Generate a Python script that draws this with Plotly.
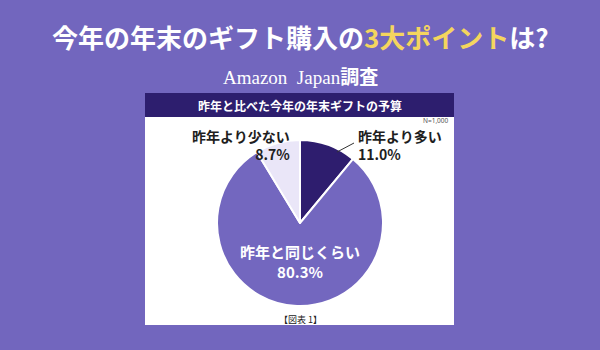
import plotly.graph_objects as go

W, H = 600, 350

# Data
categories = ["昨年より多い", "昨年と同じくらい", "昨年より少ない"]
values = [11.0, 80.3, 8.7]
colors = ["#2E1D6E", "#7367BF", "#EAE6F8"]

title_parts = ["今年の年末のギフト購入の", "3大ポイント", "は?"]
subtitle = "Amazon Japan調査"
chart_title = "昨年と比べた今年の年末ギフトの予算"
n_note = "N=1,000"
fig_note = "【図表 1】"

BG = "#7266BE"
FONT = "Noto Sans CJK JP"


def px(x):
    return x / W


def py(y):
    return 1 - y / H


fig = go.Figure()

# pie centre (300, 223), radius ~83
cx, cy, r = 300, 223, 83
fig.add_trace(go.Pie(
    labels=categories, values=values, sort=False, direction="clockwise",
    rotation=0, textinfo="none", hoverinfo="label+percent",
    marker=dict(colors=colors, line=dict(color="white", width=2)),
    domain=dict(x=[px(cx - r), px(cx + r)], y=[py(cy + r), py(cy - r)]),
    showlegend=False,
))

shapes = [
    # white panel
    dict(type="rect", xref="paper", yref="paper", x0=px(145), x1=px(454),
         y0=py(325), y1=py(93), fillcolor="white", line=dict(width=0), layer="below"),
    # header bar
    dict(type="rect", xref="paper", yref="paper", x0=px(145), x1=px(454),
         y0=py(117), y1=py(93), fillcolor="#2D1E6E", line=dict(width=0), layer="below"),
    # leader line
    dict(type="line", xref="paper", yref="paper", x0=px(337), y0=py(152),
         x1=px(354), y1=py(143), line=dict(color="#333333", width=1)),
]

def pct(v):
    return f"{v:.1f}%"

sub_words = subtitle[:-2], subtitle[-2:]

annotations = [
    dict(text="<b>" + title_parts[0] + "<span style='color:#F4D55E'>" + title_parts[1]
         + "</span>" + title_parts[2] + "</b>",
         x=0.5, y=py(36), font=dict(family=FONT, size=26, color="white")),
    dict(text="<span style='font-family:Liberation Serif'>"
         + sub_words[0].replace(" ", "  ") + "</span><b>" + sub_words[1] + "</b>",
         x=0.5, y=py(76), font=dict(family=FONT, size=19, color="white")),
    dict(text="<b>" + chart_title + "</b>", x=0.5, y=py(105),
         font=dict(family=FONT, size=12, color="white")),
    dict(text=n_note, x=px(451), y=py(121), xanchor="right",
         font=dict(family="Noto Sans", size=6.5, color="#555555")),
    dict(text="<b>" + categories[2] + "</b><br><b>" + pct(values[2]) + "</b>",
         x=px(292), y=py(145), xanchor="right", align="right",
         font=dict(family=FONT, size=14, color="#1E1E1E")),
    dict(text="<b>" + categories[0] + "</b><br><b>" + pct(values[0]) + "</b>",
         x=px(356), y=py(145), xanchor="left", align="left",
         font=dict(family=FONT, size=14, color="#1E1E1E")),
    dict(text="<b>" + categories[1] + "</b><br><b>" + pct(values[1]) + "</b>",
         x=px(300), y=py(261), font=dict(family=FONT, size=15, color="white")),
    dict(text=fig_note, x=0.5, y=py(319),
         font=dict(family=FONT, size=9, color="#222222")),
]
for a in annotations:
    a.setdefault("xref", "paper")
    a.setdefault("yref", "paper")
    a.setdefault("showarrow", False)
    a.setdefault("xanchor", "center")
    a.setdefault("yanchor", "middle")

fig.update_layout(
    width=W, height=H, margin=dict(l=0, r=0, t=0, b=0),
    paper_bgcolor=BG, plot_bgcolor=BG,
    shapes=shapes, annotations=annotations,
)

fig.write_html("out.html", config={"displayModeBar": False})
